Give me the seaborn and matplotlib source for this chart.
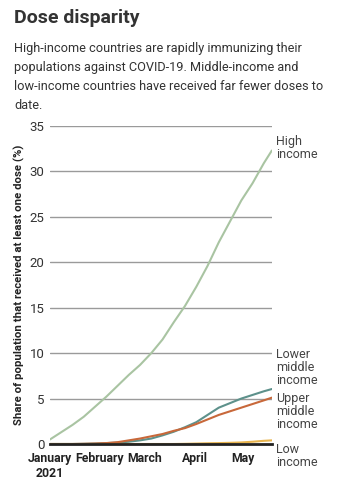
import matplotlib
matplotlib.use("Agg")
import matplotlib.pyplot as plt
import numpy as np
import pandas as pd
import seaborn as sns

days = [0, 7, 14, 21, 28, 35, 42, 49, 56, 63, 70, 77, 84, 91, 98, 105, 112, 119, 126, 133, 138]

high_income = [0.5, 1.3, 2.1, 3.0, 4.1, 5.2, 6.4, 7.6, 8.7, 10.0, 11.5, 13.4, 15.2, 17.3,
               19.6, 22.2, 24.5, 26.8, 28.7, 30.9, 32.3]
lower_middle = [0, 0, 0, 0.02, 0.05, 0.1, 0.15, 0.25, 0.4, 0.6, 0.95, 1.35, 1.85, 2.4,
                3.2, 4.0, 4.5, 5.0, 5.4, 5.8, 6.05]
upper_middle = [0, 0, 0, 0.02, 0.05, 0.1, 0.2, 0.4, 0.6, 0.85, 1.1, 1.45, 1.75, 2.2,
                2.7, 3.2, 3.6, 4.0, 4.4, 4.8, 5.1]
low_income = [0, 0, 0, 0, 0, 0, 0, 0, 0, 0, 0, 0, 0.02, 0.05, 0.08, 0.1, 0.13, 0.17,
              0.25, 0.35, 0.4]

groups = ["High income", "Lower middle income", "Upper middle income", "Low income"]
colors = ["#a9c4a2", "#5d918b", "#c8683a", "#e8b44e"]
label_text = ["High\nincome", "Lower\nmiddle\nincome", "Upper\nmiddle\nincome", "Low\nincome"]
label_pos = [32.6, 8.4, 3.6, -1.3]

dates = pd.Timestamp("2021-01-01") + pd.to_timedelta(days, unit="D")
df = pd.concat([
    pd.DataFrame({"date": dates, "share": vals, "group": g})
    for g, vals in zip(groups, [high_income, lower_middle, upper_middle, low_income])
])

sns.set_style("white")
plt.rcParams["font.family"] = ["Roboto", "DejaVu Sans"]

fig = plt.figure(figsize=(3.61, 4.8), dpi=100)
ax = fig.add_axes([0.1385, 0.075, 0.6145, 0.6625])

for y in range(5, 40, 5):
    ax.axhline(y, color="#9a9a9a", lw=1, zorder=0)

sns.lineplot(data=df, x="date", y="share", hue="group", hue_order=groups,
             palette=colors, linewidth=1.5, legend=False, ax=ax)

ax.set_xlim(pd.Timestamp("2021-01-01"), dates[-1])
ax.set_ylim(0, 35)
ax.set_yticks(range(0, 40, 5))
ax.tick_params(axis="y", length=0, labelsize=9.5, colors="#333333", pad=4)

months = pd.to_datetime(["2021-01-01", "2021-02-01", "2021-03-01", "2021-04-01", "2021-05-01"])
ax.set_xticks(months)
ax.set_xticklabels(["January\n2021", "February", "March", "April", "May"],
                   fontweight="bold", fontsize=8.8)
ax.tick_params(axis="x", length=4, width=1, color="#222222", pad=2, colors="#222222")

for s in ["top", "right", "left"]:
    ax.spines[s].set_visible(False)
ax.spines["bottom"].set_color("#222222")
ax.spines["bottom"].set_linewidth(2)

ax.set_xlabel("")
ax.set_ylabel("Share of population that received at least one dose (%)",
              fontweight="bold", fontsize=8.2, color="#222222", labelpad=3)

for txt, yv in zip(label_text, label_pos):
    ax.text(1.02, yv, txt, transform=ax.get_yaxis_transform(), fontsize=9,
            color="#444444", va="center", ha="left", linespacing=1.0)

fig.text(0.039, 0.963, "Dose disparity", fontsize=14, fontweight="bold",
         color="#333333", va="center")
fig.text(0.039, 0.84,
         "High-income countries are rapidly immunizing their\n"
         "populations against COVID-19. Middle-income and\n"
         "low-income countries have received far fewer doses to\n"
         "date.",
         fontsize=9.2, color="#333333", va="center", linespacing=1.6)

fig.savefig("out.png", dpi=100)
